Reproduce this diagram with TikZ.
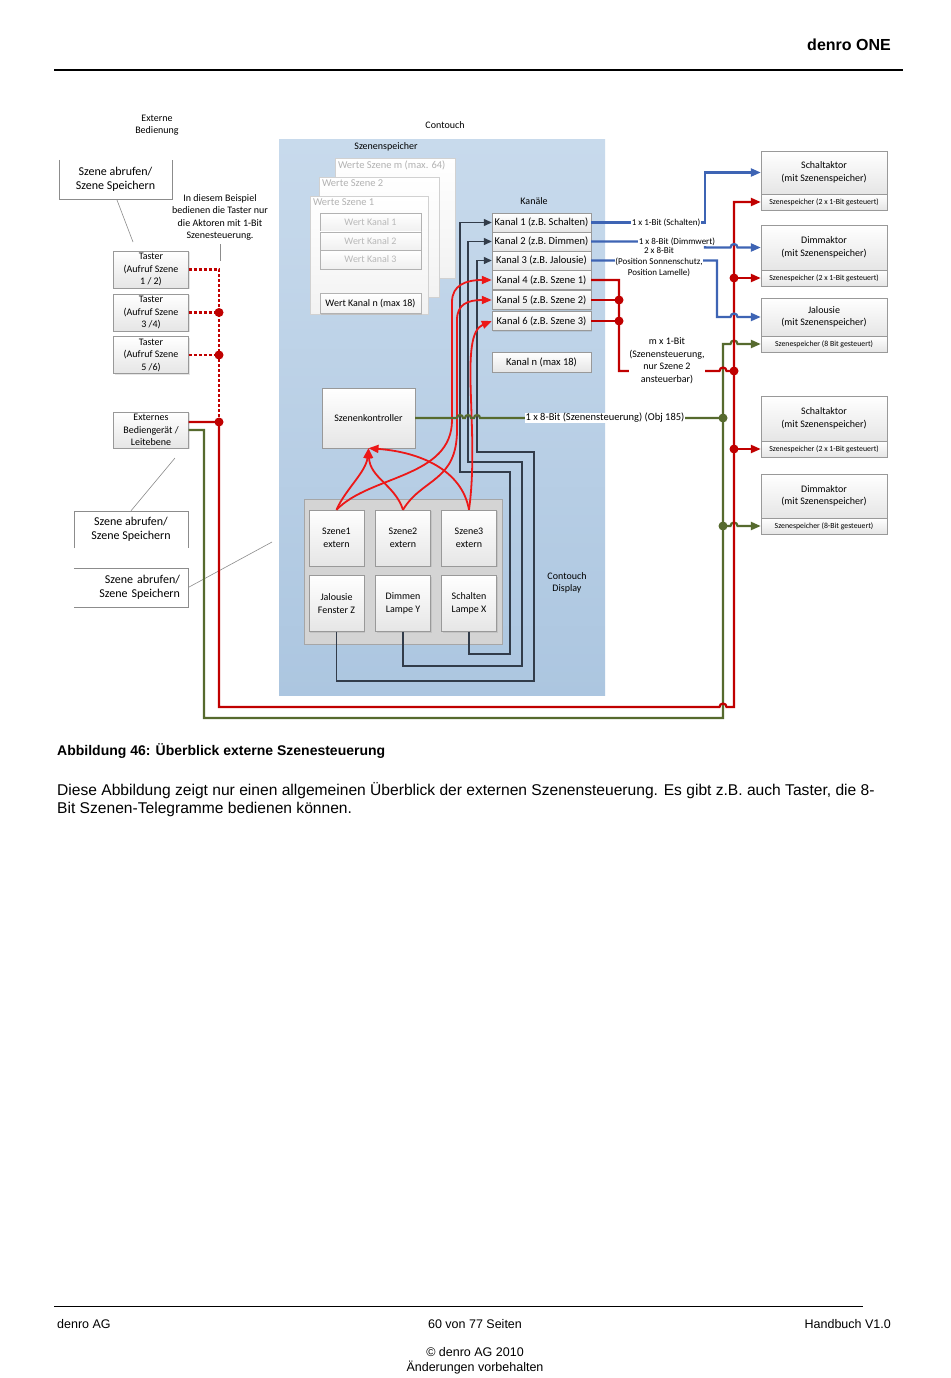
\documentclass[tikz,border=0pt]{standalone}
\usepackage{fontspec}
\setmainfont{Liberation Sans}
\newfontfamily\calfont{Carlito}
\usepackage{tikz}
\usetikzlibrary{arrows.meta,calc,positioning,shadows}
\definecolor{LineRed}{RGB}{192,0,0}
\definecolor{CurveRed}{RGB}{236,24,24}
\definecolor{LineBlue}{RGB}{62,100,180}
\definecolor{LineGreen}{RGB}{86,106,46}
\definecolor{LineDark}{RGB}{50,60,74}
\definecolor{PanelTop}{RGB}{200,218,236}
\definecolor{PanelBot}{RGB}{172,198,224}

\begin{document}
\begin{tikzpicture}[x=1pt, y=-1pt,
	dia/.style={font=\calfont\fontsize{10}{12.5}\selectfont},
	subtext/.style={font=\calfont\fontsize{7.8}{9}\selectfont},
	box/.style={dia, draw=black!40, top color=white, bottom color=black!10, align=center, inner sep=0pt,
		drop shadow={shadow xshift=1pt, shadow yshift=-1pt, opacity=0.2}},
	sheet/.style={draw=black!18, top color=white, bottom color=black!5, inner sep=0pt},
	sheettitle/.style={font=\calfont\fontsize{10.5}{12}\selectfont, text=black!30, anchor=north west, inner sep=3pt},
	kbox/.style={box, minimum width=99pt, minimum height=19pt, font=\calfont\fontsize{10.5}{12.5}\selectfont},
	wbox/.style={box, draw=black!30, bottom color=black!6, minimum width=101pt, minimum height=18.5pt, text=black!28},
	btn/.style={box, minimum width=55pt, minimum height=56pt},
	akt/.style={box, minimum width=126pt},
	memrow/.style={box, subtext, minimum width=126pt, minimum height=16pt},
	tbox/.style={box, minimum width=75pt, minimum height=37pt},
	callbox/.style={font=\calfont\fontsize{12}{14}\selectfont, align=center, inner sep=0pt, minimum width=114pt},
	cline/.style={draw=black!45, line width=0.6pt},
	lbl/.style={font=\calfont\fontsize{9}{11}\selectfont, fill=white, inner sep=0.5pt, align=center},
	drk/.style={draw=LineDark, line width=1.3pt},
	blu/.style={draw=LineBlue, line width=2.2pt},
	rd/.style={draw=LineRed, line width=2.2pt},
	grn/.style={draw=LineGreen, line width=2.2pt},
	crv/.style={draw=CurveRed, line width=1.8pt},
	arr/.style={-{Triangle[length=10pt,width=8pt]}},
	darr/.style={-{Triangle[length=8pt,width=7pt]}},
]
	\fill[white] (0,0) rectangle (950,1378);
	\useasboundingbox (0,0) rectangle (950,1378);

	% page frame
	\node[anchor=base east, inner sep=0pt, font=\bfseries\fontsize{16}{18}\selectfont] (head) at (891,51) {denro ONE};
	\draw[line width=1.3pt] (54,70) -- (903,70);
	\draw[line width=1pt] (54,1306) -- (863,1306);
	\node[anchor=base west, inner sep=0pt, font=\fontsize{12.5}{14}\selectfont] (footl) at (57,1328) {denro AG};
	\node[anchor=base, inner sep=0pt, font=\fontsize{12.5}{14}\selectfont] (footc) at (475,1328) {60 von 77 Seiten};
	\node[anchor=base east, inner sep=0pt, font=\fontsize{12.5}{14}\selectfont] (footr) at (891,1328) {Handbuch V1.0};
	\node[anchor=base, inner sep=0pt, font=\fontsize{12.5}{14}\selectfont] (copy) at (475,1356) {© denro AG 2010};
	\node[anchor=base, inner sep=0pt, font=\fontsize{12.5}{14}\selectfont] (rsv) at (475,1371) {Änderungen vorbehalten};
	\node[anchor=base west, inner sep=0pt, font=\bfseries\fontsize{14}{16}\selectfont] (cap) at (57,755) {Abbildung 46: Überblick externe Szenesteuerung};
	\node[anchor=base west, inner sep=0pt, font=\fontsize{15.6}{18}\selectfont] (body1) at (57,795) {Diese Abbildung zeigt nur einen allgemeinen Überblick der externen Szenensteuerung. Es gibt z.B. auch Taster, die 8-};
	\node[anchor=base west, inner sep=0pt, font=\fontsize{15.6}{18}\selectfont] (body2) at (57,813) {Bit Szenen-Telegramme bedienen können.};

	% contouch panel
	\shade[top color=PanelTop, bottom color=PanelBot] (279,140) rectangle (605,695);
	\node[dia, align=center] (ext-title) at (157,125) {Externe\\Bedienung};
	\node[dia] (ct-title) at (445,125) {Contouch};
	\node[dia] (mem-title) at (386,147) {Szenenspeicher};
	\node[dia] (k-title) at (534,201) {Kanäle};
	\node[dia, align=center] (disp-title) at (567,583) {Contouch\\Display};
	\node[dia, align=center] (note) at (220,217.5) {In diesem Beispiel\\bedienen die Taster nur\\die Aktoren mit 1-Bit\\Szenesteuerung.};

	\node[sheet, minimum width=120pt, minimum height=120pt] (pgm) at (395,218) {};
	\node[sheettitle] at (pgm.north west) {Werte Szene m (max. 64)};
	\node[sheet, minimum width=120pt, minimum height=120pt] (pg2) at (379,237) {};
	\node[sheettitle] at (pg2.north west) {Werte Szene 2};
	\node[sheet, minimum width=118pt, minimum height=118pt] (pg1) at (369,255) {};
	\node[sheettitle] at (pg1.north west) {Werte Szene 1};
	\node[wbox] (wk1) at (370.5,222.5) {Wert Kanal 1};
	\node[wbox] (wk2) at (370.5,241) {Wert Kanal 2};
	\node[wbox] (wk3) at (370.5,259.5) {Wert Kanal 3};
	\node[wbox, text=black, minimum height=20pt] (wkn) at (370.5,303.5) {Wert Kanal n (max 18)};

	\node[kbox] (k1) at (541.5,222.5) {Kanal 1 (z.B. Schalten)};
	\node[kbox] (k2) at (541.5,241.5) {Kanal 2 (z.B. Dimmen)};
	\node[kbox] (k3) at (541.5,260.5) {Kanal 3 (z.B. Jalousie)};
	\node[kbox] (k4) at (541.5,280) {Kanal 4 (z.B. Szene 1)};
	\node[kbox] (k5) at (541.5,300) {Kanal 5 (z.B. Szene 2)};
	\node[kbox] (k6) at (541.5,321) {Kanal 6 (z.B. Szene 3)};
	\node[kbox, minimum height=20pt] (kn) at (541.5,362) {Kanal n (max 18)};

	\node[box, minimum width=93pt, minimum height=60pt] (ctrl) at (368.5,418) {Szenenkontroller};
	\node[draw=black!35, fill=black!17, minimum width=198pt, minimum height=145pt] (disp) at (403,571.5) {};
	\node[btn] (s1) at (336.5,538) {Szene1\\extern};
	\node[btn] (s2) at (403,538) {Szene2\\extern};
	\node[btn] (s3) at (469,538) {Szene3\\extern};
	\node[btn] (jf) at (336.5,603.5) {Jalousie\\Fenster Z};
	\node[btn] (dy) at (403,603.5) {Dimmen\\Lampe Y};
	\node[btn] (sx) at (469,603.5) {Schalten\\Lampe X};

	% actuators
	\node[akt, minimum height=43pt] (sa1) at (824,172.5) {Schaltaktor\\(mit Szenenspeicher)};
	\node[memrow] (sa1m) at (824,202) {Szenespeicher (2 x 1-Bit gesteuert)};
	\node[akt, minimum height=45pt] (dim1) at (824,247.5) {Dimmaktor\\(mit Szenenspeicher)};
	\node[memrow] (dim1m) at (824,278) {Szenespeicher (2 x 1-Bit gesteuert)};
	\node[akt, minimum height=38pt] (jal1) at (824,317) {Jalousie\\(mit Szenenspeicher)};
	\node[memrow] (jal1m) at (824,344) {Szenespeicher (8 Bit gesteuert)};
	\node[akt, minimum height=45pt] (sa2) at (824,418.5) {Schaltaktor\\(mit Szenenspeicher)};
	\node[memrow] (sa2m) at (824,449) {Szenespeicher (2 x 1-Bit gesteuert)};
	\node[akt, minimum height=44pt] (dim2) at (824,496) {Dimmaktor\\(mit Szenenspeicher)};
	\node[memrow] (dim2m) at (824,526) {Szenespeicher (8-Bit gesteuert)};

	% external devices
	\node[tbox] (t1) at (151,269.5) {Taster\\(Aufruf Szene\\1 / 2)};
	\node[tbox] (t2) at (151,312.5) {Taster\\(Aufruf Szene\\3 /4)};
	\node[tbox] (t3) at (151,355) {Taster\\(Aufruf Szene\\5 /6)};
	\node[tbox, minimum height=36pt] (ext) at (151,430) {Externes\\Bediengerät /\\Leitebene};

	\node[callbox, minimum width=113pt, minimum height=39pt] (cb1) at (115.5,179.5) {Szene abrufen/\\Szene Speichern};
	\draw[cline] (cb1.north west) -- (cb1.south west) -- (cb1.south east) -- (cb1.north east);
	\draw[cline] (117,200) -- (133,242);
	\node[callbox, minimum height=37pt] (cb2) at (131,529.5) {Szene abrufen/\\Szene Speichern};
	\draw[cline] (cb2.south west) -- (cb2.north west) -- (cb2.north east) -- (cb2.south east);
	\draw[cline] (cb2.north) -- (175,458);
	\node[callbox, minimum height=39pt, text width=98pt, align=right] (cb3) at (131,587.5) {Szene abrufen/\\Szene Speichern};
	\draw[cline] (cb3.north west) -- (cb3.north east) -- (cb3.south east) -- (cb3.south west);
	\draw[cline] (cb3.east) -- (272,542);
	\draw[cline] (note.south) -- ++(0,17);

	% display to channels
	\draw[drk, darr] (sx.south) |- (510,654) |- (460,472) |- (k1.west);
	\draw[drk, darr] (dy.south) |- (522,666) |- (468,462) |- (k2.west);
	\draw[drk, darr] (jf.south) |- (534,681) |- (477,452) |- (k3.west);

	% scene buttons
	\draw[crv, arr] (s1.north) .. controls (370,475) and (452,478) .. (452,420) -- (452,302) .. controls (452,285) and (466,280) .. (k4.west);
	\draw[crv, arr] (s2.north) .. controls (422,478) and (457,482) .. (457,430) -- (457,320) .. controls (457,304) and (468,300) .. (k5.west);
	\draw[crv, arr] (s3.north) .. controls (480,430) and (458,335) .. (k6.west);
	\draw[crv, arr] (s1.north) .. controls (345,490) and (366,472) .. (ctrl.south);
	\draw[crv, arr] (s2.north) .. controls (395,485) and (370,478) .. (ctrl.south);
	\draw[crv, arr] (s3.north) .. controls (462,470) and (420,452) .. (ctrl.south);

	% bus lines
	\draw[grn] (ctrl.east) -- (457,418) arc[start angle=180, end angle=0, radius=3pt] -- (465,418) arc[start angle=180, end angle=0, radius=3pt] -- (474,418) arc[start angle=180, end angle=0, radius=3pt] -- (723,418);
	\draw[grn, arr] (ext.east) -- (204,430) -- (204,718) -- (723,718) -- (723,344) -- (730.5,344) arc[start angle=180, end angle=0, radius=3.5pt] -- (jal1m.west);
	\draw[grn, arr] (723,526) -- (730.5,526) arc[start angle=180, end angle=0, radius=3.5pt] -- (dim2m.west);

	\draw[rd, dash pattern=on 3pt off 2pt] (t1.east) -- (219,269.5) -- (219,422);
	\draw[rd, dash pattern=on 3pt off 2pt] (t2.east) -- (219,312.5);
	\draw[rd, dash pattern=on 3pt off 2pt] (t3.east) -- (219,355);
	\draw[rd, arr] ([yshift=8pt]ext.east) -- (219,422) -- (219,707) -- (719.5,707) arc[start angle=180, end angle=0, radius=3.5pt] -- (734,707) -- (734,202) -- (sa1m.west);
	\draw[rd, arr] (734,278) -- (dim1m.west);
	\draw[rd, arr] (734,449) -- (sa2m.west);
	\draw[rd] (k4.east) -- (619,280) -- (619,371) -- (719.5,371) arc[start angle=180, end angle=0, radius=3.5pt] -- (734,371);
	\draw[rd] (k5.east) -- (619,300);
	\draw[rd] (k6.east) -- (619,321);

	\draw[blu, arr] (k1.east) -- (705,222.5) |- (sa1.west);
	\draw[blu, arr] (k2.east) -- (705,241.5) -- (705,247.5) -- (730.5,247.5) arc[start angle=180, end angle=0, radius=3.5pt] -- (dim1.west);
	\draw[blu, arr] (k3.east) -- (717,260.5) -- (717,317) -- (730.5,317) arc[start angle=180, end angle=0, radius=3.5pt] -- (jal1.west);

	% line labels
	\node[lbl] (l1) at (666,222.5) {1 x 1-Bit (Schalten)};
	\node[lbl] (l2) at (677,241.5) {1 x 8-Bit (Dimmwert)};
	\node[lbl] (l3) at (659,262) {2 x 8-Bit\\(Position Sonnenschutz,\\Position Lamelle)};
	\node[lbl, font=\calfont\fontsize{10}{12.5}\selectfont] (l4) at (667,361) {m x 1-Bit\\(Szenensteuerung,\\nur Szene 2\\ansteuerbar)};
	\node[lbl, font=\calfont\fontsize{10.5}{12}\selectfont] (l5) at (605,418) {1 x 8-Bit (Szenensteuerung) (Obj 185)};

	% junctions
	\foreach \p in {(219,312.5),(219,355),(219,422),(619,300),(619,321),(734,278),(734,371),(734,449)}
		\fill[LineRed] \p circle (4.5pt);
	\foreach \p in {(723,418),(723,526)}
		\fill[LineGreen] \p circle (4.5pt);
\end{tikzpicture}
\end{document}
